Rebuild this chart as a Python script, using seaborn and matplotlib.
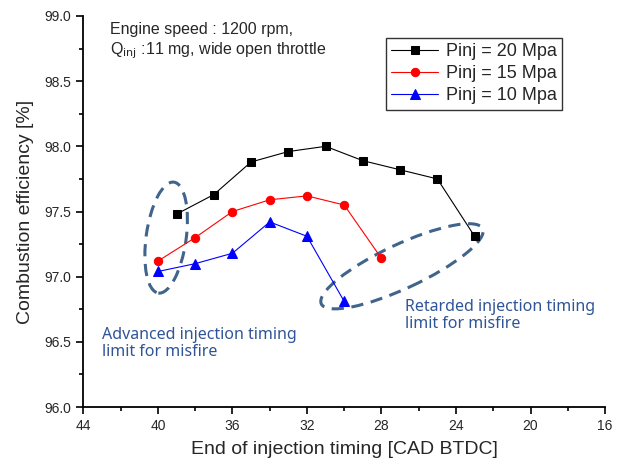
import numpy as np
import pandas as pd
import seaborn as sns
import matplotlib.pyplot as plt
from matplotlib.patches import Ellipse
from matplotlib.transforms import ScaledTranslation

# data
eoi_20 = [39, 37, 35, 33, 31, 29, 27, 25, 23]
eff_20 = [97.48, 97.63, 97.88, 97.96, 98.00, 97.89, 97.82, 97.75, 97.31]
eoi_15 = [40, 38, 36, 34, 32, 30, 28]
eff_15 = [97.12, 97.30, 97.50, 97.59, 97.62, 97.55, 97.14]
eoi_10 = [40, 38, 36, 34, 32, 30]
eff_10 = [97.04, 97.10, 97.18, 97.42, 97.31, 96.81]
labels = ["Pinj = 20 Mpa", "Pinj = 15 Mpa", "Pinj = 10 Mpa"]

sns.set_theme(style="ticks")
plt.rcParams["font.family"] = ["Liberation Sans", "DejaVu Sans"]

fig = plt.figure(figsize=(6.18, 4.69), dpi=100)
ax = fig.add_axes([0.135, 0.132, 0.844, 0.834])

series = [
    (eoi_20, eff_20, labels[0], "black", "s", 5.5),
    (eoi_15, eff_15, labels[1], "red", "o", 6),
    (eoi_10, eff_10, labels[2], "blue", "^", 7),
]
for x, y, lab, col, mk, ms in series:
    df = pd.DataFrame({"x": x, "y": y})
    sns.lineplot(data=df, x="x", y="y", ax=ax, color=col, marker=mk,
                 markersize=ms, markeredgecolor=col, linewidth=0.8,
                 label=lab, sort=False)

ax.set_xlim(44, 16)
ax.set_ylim(96.0, 99.0)
ax.set_xticks(np.arange(44, 15, -4))
ax.set_xticks(np.arange(42, 16, -4), minor=True)
ax.set_yticks(np.arange(96.0, 99.01, 0.5))
ax.set_yticks(np.arange(96.25, 99.0, 0.5), minor=True)
ax.yaxis.set_major_formatter(plt.FormatStrFormatter("%.1f"))
ax.tick_params(axis="both", which="major", direction="out", length=5,
               width=1.2, labelsize=10, color="black")
ax.tick_params(axis="both", which="minor", direction="out", length=3,
               width=1.2, color="black")
for s in ["top", "right"]:
    ax.spines[s].set_visible(False)
for s in ["left", "bottom"]:
    ax.spines[s].set_linewidth(1.3)
    ax.spines[s].set_color("black")

ax.set_xlabel("End of injection timing [CAD BTDC]", fontsize=14, labelpad=6)
ax.set_ylabel("Combustion efficiency [%]", fontsize=14, labelpad=8)

leg = ax.legend(loc="upper left", bbox_to_anchor=(0.58, 0.944), fontsize=13,
                frameon=True, fancybox=False, edgecolor="black",
                borderpad=0.3, labelspacing=0.28, handlelength=2.6,
                handletextpad=0.4, borderaxespad=0)
leg.get_frame().set_linewidth(1.0)

ax.text(0.05, 0.984, "Engine speed : 1200 rpm,\nQ$_{\\rm inj}$ :11 mg, wide open throttle",
        transform=ax.transAxes, fontsize=11.5, va="top", ha="left",
        linespacing=1.2)

note_color = "#2f5597"
ax.text(43.0, 96.49, "Advanced injection timing\nlimit for misfire", fontsize=11.5,
        color=note_color, family=["Noto Sans", "DejaVu Sans"], va="center",
        ha="left", linespacing=1.1)
ax.text(26.75, 96.70, "Retarded injection timing\nlimit for misfire", fontsize=11.5,
        color=note_color, family=["Noto Sans", "DejaVu Sans"], va="center",
        ha="left", linespacing=1.1)

ell_color = "#40648c"
for cx, cy, w, h, ang in [(39.56, 97.30, 0.40, 1.12, -8), (26.9, 97.08, 1.78, 0.44, 25)]:
    tr = fig.dpi_scale_trans + ScaledTranslation(cx, cy, ax.transData)
    e = Ellipse((0, 0), w, h, angle=ang, transform=tr, fill=False,
                edgecolor=ell_color, linewidth=2.2, linestyle=(0, (4, 2.5)))
    ax.add_patch(e)

fig.savefig("out.png", dpi=100)
